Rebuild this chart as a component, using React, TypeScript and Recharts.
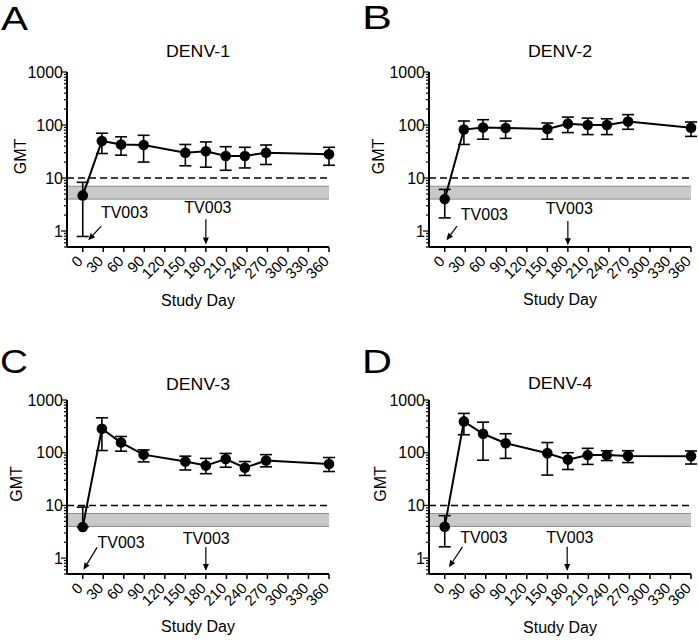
import {
  ComposedChart,
  ErrorBar,
  Line,
  ReferenceArea,
  ReferenceDot,
  ReferenceLine,
  XAxis,
  YAxis,
} from 'recharts';

const FONT = '"Liberation Sans", Arial, Helvetica, sans-serif';

// shared axes
const studyDays = [0, 28, 56, 89, 150, 180, 209, 237, 268, 360];
const dayTicks = [0, 30, 60, 90, 120, 150, 180, 210, 240, 270, 300, 330, 360];
const gmtMajorTicks = [1, 10, 100, 1000];
const gmtMinorTicks = [
  0.5, 0.6, 0.7, 0.8, 0.9,
  2, 3, 4, 5, 6, 7, 8, 9,
  20, 30, 40, 50, 60, 70, 80, 90,
  200, 300, 400, 500, 600, 700, 800, 900,
];
const allGmtTicks = [...gmtMajorTicks, ...gmtMinorTicks].sort((a, b) => a - b);

// thresholds
const dashedCutoff = 10;
const greyBand = [4, 7];

// DENV-1
const denv1Gmt = [4.7, 50, 43, 42, 30, 32, 26, 26, 30, 28];
const denv1Lower = [0.79, 29, 27, 20, 17, 16, 14, 15.5, 18, 17.4];
const denv1Upper = [8.3, 70, 60, 64, 43, 48, 39, 38, 42, 38];

// DENV-2
const denv2Gmt = [4.0, 82, 90, 88, 84, 106, 100, 100, 116, 89];
const denv2Lower = [1.77, 43, 54, 56, 54, 72, 66, 66, 83, 61];
const denv2Upper = [6.1, 119, 126, 119, 109, 141, 135, 131, 157, 114];

// DENV-3
const denv3Gmt = [3.9, 285, 156, 92, 68, 57, 76, 52, 71, 61];
const denv3Lower = [3.9, 110, 107, 67, 47, 40, 53, 37, 54, 44];
const denv3Upper = [9.3, 460, 203, 113, 86, 78, 97, 68, 92, 81];

// DENV-4
const denv4Gmt = [3.95, 393, 229, 151, 98, 74, 90, 90, 87, 86];
const denv4Lower = [1.64, 219, 72, 78, 37.6, 48, 60, 71, 65, 61];
const denv4Upper = [6.4, 557, 380, 229, 156, 100, 121, 109, 109, 108];

// TV003 dose annotations (day, GMT)
const denv1Notes = {
  leftLabel: { x: 61, y: 2.3 },
  leftArrow: [{ x: 27, y: 1.24 }, { x: 8, y: 0.67 }],
  rightLabel: { x: 183, y: 2.8 },
  rightArrow: [{ x: 180, y: 1.67 }, { x: 180, y: 0.56 }],
};
const denv2Notes = {
  leftLabel: { x: 58, y: 2.1 },
  leftArrow: [{ x: 18, y: 1.24 }, { x: 2.5, y: 0.67 }],
  rightLabel: { x: 182, y: 2.67 },
  rightArrow: [{ x: 180, y: 1.55 }, { x: 180, y: 0.54 }],
};
const denv3Notes = {
  leftLabel: { x: 56, y: 1.96 },
  leftArrow: [{ x: 21, y: 1.6 }, { x: 1, y: 0.6 }],
  rightLabel: { x: 180.5, y: 2.34 },
  rightArrow: [{ x: 180, y: 1.62 }, { x: 180, y: 0.57 }],
};
const denv4Notes = {
  leftLabel: { x: 57, y: 2.45 },
  leftArrow: [{ x: 26, y: 1.64 }, { x: 6, y: 0.67 }],
  rightLabel: { x: 183, y: 2.45 },
  rightArrow: [{ x: 179, y: 1.64 }, { x: 179, y: 0.57 }],
};

const W = 349;
const H = 320;

const panels = [
  {
    letter: 'A', title: 'DENV-1', gmt: denv1Gmt, lower: denv1Lower, upper: denv1Upper, notes: denv1Notes,
    left: 0, top: 0, axisX: 67, plotRight: 329, plotTop: 72, plotBottom: 247, studyBase: 306,
    gmtX: 20, letterX: 1, letterBase: 30, letterLen: 27, titleBase: 57,
  },
  {
    letter: 'B', title: 'DENV-2', gmt: denv2Gmt, lower: denv2Lower, upper: denv2Upper, notes: denv2Notes,
    left: 349, top: 0, axisX: 80, plotRight: 342, plotTop: 72, plotBottom: 247, studyBase: 305,
    gmtX: 29, letterX: 13, letterBase: 29, letterLen: 30, titleBase: 57,
  },
  {
    letter: 'C', title: 'DENV-3', gmt: denv3Gmt, lower: denv3Lower, upper: denv3Upper, notes: denv3Notes,
    left: 0, top: 320, axisX: 67, plotRight: 329, plotTop: 80, plotBottom: 254, studyBase: 312,
    gmtX: 16, letterX: 0, letterBase: 53, letterLen: 28, titleBase: 70,
  },
  {
    letter: 'D', title: 'DENV-4', gmt: denv4Gmt, lower: denv4Lower, upper: denv4Upper, notes: denv4Notes,
    left: 349, top: 320, axisX: 80, plotRight: 342, plotTop: 80, plotBottom: 254, studyBase: 313,
    gmtX: 31, letterX: 13, letterBase: 53, letterLen: 30, titleBase: 69,
  },
];

const ArrowShape = (props: any) => {
  const { x1, y1, x2, y2 } = props;
  const ang = Math.atan2(y2 - y1, x2 - x1);
  const len = 7;
  const half = 3;
  const bx = x2 - len * Math.cos(ang);
  const by = y2 - len * Math.sin(ang);
  const px = -Math.sin(ang) * half;
  const py = Math.cos(ang) * half;
  return (
    <g>
      <line x1={x1} y1={y1} x2={bx} y2={by} stroke="#000" strokeWidth={1.2} />
      <polygon points={`${x2},${y2} ${bx + px},${by + py} ${bx - px},${by - py}`} fill="#000" />
    </g>
  );
};

const TextShape = (props: any) => (
  <text x={props.cx} y={props.cy} dy="0.36em" textAnchor="middle" fontSize={16} fontFamily={FONT} fill="#000">
    TV003
  </text>
);

const XTick = (props: any) => {
  const { x, y, payload } = props;
  const ax = x + 1;
  const ay = y + 8;
  return (
    <text x={ax} y={ay} transform={`rotate(-45, ${ax}, ${ay})`} textAnchor="end" fontSize={15} fontFamily={FONT} fill="#000">
      {payload.value}
    </text>
  );
};

function makeYTick(axisX: number) {
  return (props: any) => {
    const { y, payload } = props;
    const major = gmtMajorTicks.includes(payload.value);
    return (
      <g>
        <line x1={axisX - (major ? 6 : 3)} x2={axisX} y1={y} y2={y} stroke="#000" strokeWidth={1.2} />
        {major && (
          <text x={axisX - 4} y={y} dy="0.36em" textAnchor="end" fontSize={16} fontFamily={FONT} fill="#000">
            {payload.value}
          </text>
        )}
      </g>
    );
  };
}

function Panel({ p }: { p: (typeof panels)[number] }) {
  const data = studyDays.map((day, i) => ({
    day,
    gmt: p.gmt[i],
    err: [p.gmt[i] - p.lower[i], p.upper[i] - p.gmt[i]],
  }));
  const n = p.notes;

  return (
    <div style={{ position: 'absolute', left: p.left, top: p.top, width: W, height: H }}>
      <ComposedChart
        width={W}
        height={H}
        data={data}
        margin={{ top: p.plotTop, right: W - p.plotRight, bottom: H - p.studyBase, left: 0 }}
        style={{ fontFamily: FONT }}
      >
        <XAxis
          type="number"
          dataKey="day"
          domain={[-23, 360]}
          ticks={dayTicks}
          interval={0}
          height={p.studyBase - p.plotBottom}
          axisLine={{ stroke: '#000', strokeWidth: 2 }}
          tickLine={{ stroke: '#000', strokeWidth: 1.5 }}
          tickSize={5}
          tick={XTick}
          label={{ value: 'Study Day', position: 'insideBottom', offset: 0, fill: '#000', fontSize: 16, fontFamily: FONT }}
        />
        <YAxis
          type="number"
          scale="log"
          domain={[0.5, 1000]}
          ticks={allGmtTicks}
          interval={0}
          width={p.axisX}
          axisLine={{ stroke: '#000', strokeWidth: 2 }}
          tickLine={false}
          tick={makeYTick(p.axisX)}
          label={{
            value: 'GMT',
            angle: -90,
            position: 'insideLeft',
            offset: p.gmtX,
            dy: -3,
            fill: '#000',
            fontSize: 16,
            fontFamily: FONT,
            style: { textAnchor: 'middle' },
          }}
        />
        <ReferenceArea y1={greyBand[0]} y2={greyBand[1]} fill="#c9c9c9" fillOpacity={1} stroke="none" />
        <ReferenceLine y={greyBand[0]} stroke="#8a8a8a" strokeWidth={1} />
        <ReferenceLine y={greyBand[1]} stroke="#8a8a8a" strokeWidth={1} />
        <ReferenceLine y={dashedCutoff} stroke="#000" strokeWidth={1.5} strokeDasharray="7 4" />
        <ReferenceLine segment={n.leftArrow} shape={ArrowShape} />
        <ReferenceLine segment={n.rightArrow} shape={ArrowShape} />
        <ReferenceDot x={n.leftLabel.x} y={n.leftLabel.y} shape={TextShape} />
        <ReferenceDot x={n.rightLabel.x} y={n.rightLabel.y} shape={TextShape} />
        <Line
          dataKey="gmt"
          type="linear"
          stroke="#000"
          strokeWidth={2}
          dot={{ r: 5.3, fill: '#000', stroke: '#000', strokeWidth: 0 }}
          activeDot={false}
          isAnimationActive={false}
        >
          <ErrorBar dataKey="err" direction="y" width={6} stroke="#000" strokeWidth={1.6} isAnimationActive={false} />
        </Line>
      </ComposedChart>
      <svg width={W} height={H} style={{ position: 'absolute', left: 0, top: 0, pointerEvents: 'none' }}>
        <text
          x={p.letterX}
          y={p.letterBase}
          fontSize={33}
          fontFamily={FONT}
          fill="#000"
          textLength={p.letterLen}
          lengthAdjust="spacingAndGlyphs"
        >
          {p.letter}
        </text>
        <text
          x={(p.axisX + p.plotRight) / 2}
          y={p.titleBase}
          fontSize={16}
          fontFamily={FONT}
          fill="#000"
          textAnchor="middle"
          textLength={64}
          lengthAdjust="spacingAndGlyphs"
        >
          {p.title}
        </text>
      </svg>
    </div>
  );
}

export default function App() {
  return (
    <div style={{ position: 'absolute', left: 0, top: 0, width: 698, height: 640, background: '#fff' }}>
      {panels.map((p) => (
        <Panel key={p.letter} p={p} />
      ))}
    </div>
  );
}
